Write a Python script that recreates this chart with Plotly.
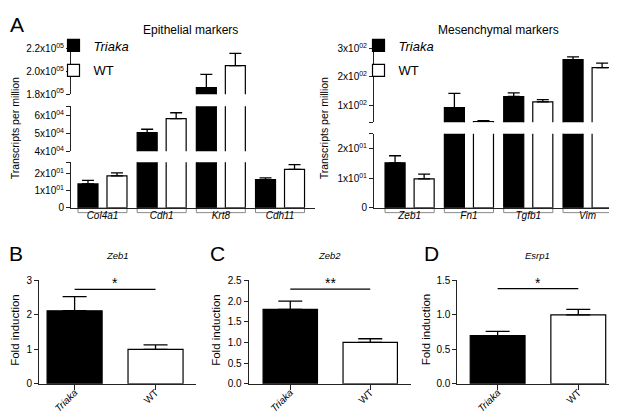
import plotly.graph_objects as go

# ---------------- data ----------------
groups = ["Triaka", "WT"]

epi_genes = ["Col4a1", "Cdh1", "Krt8", "Cdh11"]
epi_triaka = [14.1, 50500, 185800, 16.6]
epi_triaka_err = [2.1, 1900, 11600, 1.1]
epi_wt = [18.9, 58400, 205200, 22.7]
epi_wt_err = [1.7, 3300, 10800, 2.8]

mes_genes = ["Zeb1", "Fn1", "Tgfb1", "Vim"]
mes_triaka = [15.2, 92, 131, 260]
mes_triaka_err = [2.4, 50, 13, 10]
mes_wt = [9.8, 43, 112, 232]
mes_wt_err = [1.6, 4, 8, 16]

zeb1_vals = [2.12, 1.0]
zeb1_err = [0.41, 0.13]
zeb2_vals = [1.80, 1.0]
zeb2_err = [0.20, 0.09]
esrp1_vals = [0.70, 1.0]
esrp1_err = [0.06, 0.08]

sig_heights = [2.74, 2.29, 1.38]
sig_labels = ["*", "**", "*"]

# tick labels of the broken axes
epi_seg_ticks = [
    ([0, 10, 20, 26.9], ["0", "1x10<sup>01</sup>", "2x10<sup>01</sup>", ""]),
    ([40000, 50000, 60000, 65300], ["4x10<sup>04</sup>", "5x10<sup>04</sup>", "6x10<sup>04</sup>", ""]),
    ([180000, 200000, 220000], ["1.8x10<sup>05</sup>", "2.0x10<sup>05</sup>", "2.2x10<sup>05</sup>"]),
]
mes_seg_ticks = [
    ([0, 10, 20, 25], ["0", "1x10<sup>01</sup>", "2x10<sup>01</sup>", ""]),
    ([41, 100, 200, 300], ["", "1x10<sup>02</sup>", "2x10<sup>02</sup>", "3x10<sup>02</sup>"]),
]

# ---------------- layout helpers ----------------
W, H = 617, 416
FONT = "Liberation Sans, Arial, sans-serif"


def px_x(p):
    return p / W


def px_y(p):
    return 1 - p / H


fig = go.Figure()

BAR_LINE = dict(color="black", width=1.2)
A_W = 0.338
A_OFF = [-0.414, 0.076]

# ---- Panel A left (3 segments) ----
epi_yaxes = ["y", "y2", "y3"]
for si, ya in enumerate(epi_yaxes):
    for gi, (vals, errs, col) in enumerate([(epi_triaka, epi_triaka_err, "black"),
                                             (epi_wt, epi_wt_err, "white")]):
        fig.add_trace(go.Bar(
            x=epi_genes, y=vals, xaxis="x", yaxis=ya,
            name=f"<i>{groups[gi]}</i>" if gi == 0 else groups[gi],
            width=A_W, offset=A_OFF[gi],
            marker=dict(color=col, line=BAR_LINE),
            error_y=dict(type="data", array=errs, arrayminus=[0] * len(errs), symmetric=False,
                         color="black", thickness=1.3, width=6),
            showlegend=(si == 0), legend="legend", legendgroup=f"epi{gi}",
        ))

# ---- Panel A right (2 segments) ----
mes_yaxes = ["y4", "y5"]
for si, ya in enumerate(mes_yaxes):
    for gi, (vals, errs, col) in enumerate([(mes_triaka, mes_triaka_err, "black"),
                                             (mes_wt, mes_wt_err, "white")]):
        fig.add_trace(go.Bar(
            x=mes_genes, y=vals, xaxis="x2", yaxis=ya,
            name=f"<i>{groups[gi]}</i>" if gi == 0 else groups[gi],
            width=A_W, offset=A_OFF[gi],
            marker=dict(color=col, line=BAR_LINE),
            error_y=dict(type="data", array=errs, arrayminus=[0] * len(errs), symmetric=False,
                         color="black", thickness=1.3, width=6),
            showlegend=(si == 0), legend="legend2", legendgroup=f"mes{gi}",
        ))

# ---- Panels B, C, D ----
small = [
    ("x3", "y6", zeb1_vals, zeb1_err),
    ("x4", "y7", zeb2_vals, zeb2_err),
    ("x5", "y8", esrp1_vals, esrp1_err),
]
for xa, ya, vals, errs in small:
    fig.add_trace(go.Bar(
        x=groups, y=vals, xaxis=xa, yaxis=ya, width=0.68,
        marker=dict(color=["black", "white"], line=BAR_LINE),
        error_y=dict(type="data", array=errs, arrayminus=[0] * len(errs), symmetric=False,
                     color="black", thickness=1.3, width=12),
        showlegend=False,
    ))

# ---------------- axes ----------------
axis_common = dict(showline=True, linecolor="#222", linewidth=1, showgrid=False, zeroline=False,
                   ticks="outside", ticklen=4, tickwidth=1, tickcolor="#222",
                   tickfont=dict(family=FONT, size=10, color="black"))

layout = dict(
    width=W, height=H, margin=dict(l=0, r=0, t=0, b=0),
    plot_bgcolor="white", paper_bgcolor="white",
    barmode="overlay",
    font=dict(family=FONT, color="black"),
)

# A left
layout["xaxis"] = dict(domain=[px_x(63), px_x(307)], anchor="y", type="category",
                       categoryarray=epi_genes, range=[-0.532, 3.591],
                       showline=True, linecolor="#222", linewidth=1, showgrid=False, zeroline=False,
                       ticks="", ticklabelstandoff=-2,
                       tickfont=dict(family=FONT, size=10, color="black", style="italic"))
epi_domains = [(152, 199), (94.3, 140.7), (35, 81.7)]
epi_ranges = [[0, 26.9], [40000, 65300], [180000, 220000]]
for i, ya in enumerate(["yaxis", "yaxis2", "yaxis3"]):
    top, bot = epi_domains[i]
    tv, tt = epi_seg_ticks[i]
    layout[ya] = dict(axis_common, domain=[px_y(bot), px_y(top)], anchor="x",
                      range=epi_ranges[i], tickvals=tv, ticktext=tt)

# A right
layout["xaxis2"] = dict(domain=[px_x(366), px_x(614)], anchor="y4", type="category",
                        categoryarray=mes_genes, range=[-0.60, 3.58],
                        showline=True, linecolor="#222", linewidth=1, showgrid=False, zeroline=False,
                        ticks="", ticklabelstandoff=-2,
                        tickfont=dict(family=FONT, size=10, color="black", style="italic"))
mes_domains = [(122.7, 199), (34.3, 110.7)]
mes_ranges = [[0, 25], [41, 300]]
for i, ya in enumerate(["yaxis4", "yaxis5"]):
    top, bot = mes_domains[i]
    tv, tt = mes_seg_ticks[i]
    layout[ya] = dict(axis_common, domain=[px_y(bot), px_y(top)], anchor="x2",
                      range=mes_ranges[i], tickvals=tv, ticktext=tt)

# B, C, D
small_x_domains = [(31, 188), (240.7, 403), (449.3, 609)]
small_x_ranges = [[-0.44, 1.5], [-0.52, 1.51], [-0.50, 1.48]]
small_y_ranges = [[0, 3], [0, 2.5], [0, 1.5]]
small_y_ticks = [
    ([0, 1, 2, 3], ["0", "1", "2", "3"]),
    ([0, 0.5, 1, 1.5, 2, 2.5], ["0.0", "0.5", "1.0", "1.5", "2.0", "2.5"]),
    ([0, 0.5, 1, 1.5], ["0.0", "0.5", "1.0", "1.5"]),
]
for i in range(3):
    xn = f"xaxis{i + 3}"
    yn = f"yaxis{i + 6}"
    l, r = small_x_domains[i]
    layout[xn] = dict(axis_common, domain=[px_x(l), px_x(r)], anchor=f"y{i + 6}", type="category",
                      categoryarray=groups, range=small_x_ranges[i], tickangle=-45,
                      ticklen=5, tickvals=groups, ticktext=["<i>Triaka</i>", "WT"],
                      ticklabelstandoff=-7,
                      tickfont=dict(family=FONT, size=10, color="black"))
    tv, tt = small_y_ticks[i]
    layout[yn] = dict(axis_common, domain=[px_y(380.7), px_y(274)], anchor=f"x{i + 3}",
                      range=small_y_ranges[i], tickvals=tv, ticktext=tt)

# legends
leg_common = dict(xanchor="left", yanchor="top", bgcolor="rgba(0,0,0,0)", borderwidth=0,
                  font=dict(family=FONT, size=13, color="black"), itemwidth=30,
                  tracegroupgap=5, traceorder="grouped")
layout["legend"] = dict(leg_common, x=px_x(45.5), y=px_y(16))
layout["legend2"] = dict(leg_common, x=px_x(350.5), y=px_y(16))

fig.update_layout(**layout)

# ---------------- shapes: group brackets & significance lines ----------------
shapes = []
for xa, genes in [("x", epi_genes), ("x2", mes_genes)]:
    for k in range(len(genes)):
        shapes.append(dict(type="rect", xref=xa, yref="paper",
                           x0=k + A_OFF[0], x1=k + A_OFF[1] + A_W,
                           y0=px_y(199), y1=px_y(204),
                           line=dict(color="#888", width=1), fillcolor="rgba(0,0,0,0)",
                           layer="below"))
for i in range(3):
    shapes.append(dict(type="line", xref=f"x{i + 3}", yref=f"y{i + 6}",
                       x0=0, x1=1, y0=sig_heights[i], y1=sig_heights[i],
                       line=dict(color="black", width=1.3)))
fig.update_layout(shapes=shapes)

# ---------------- annotations ----------------
ann = []


def txt(text, x, y, size, **kw):
    d = dict(text=text, x=x, y=y, xref="paper", yref="paper", showarrow=False,
             font=dict(family=FONT, size=size, color="black"), xanchor="center", yanchor="middle")
    d.update(kw)
    ann.append(d)


txt("A", px_x(9), px_y(10), 21)
txt("B", px_x(8), px_y(246), 21)
txt("C", px_x(209), px_y(246), 21)
txt("D", px_x(423), px_y(246), 21)
txt("Epithelial markers", px_x(182), px_y(15), 12)
txt("Mesenchymal markers", px_x(490), px_y(15), 12)
txt("Transcripts per million", px_x(7), px_y(117), 10.5, textangle=-90)
txt("Transcripts per million", px_x(316), px_y(117), 10.5, textangle=-90)
for i, name in enumerate(["Zeb1", "Zeb2", "Esrp1"]):
    l, r = small_x_domains[i]
    txt(f"<i>{name}</i>", px_x((l + r) / 2), px_y(248), 9.5)
for i, xpos in enumerate([7, 208, 417.5]):
    txt("Fold induction", px_x(xpos), px_y(325), 11.5, textangle=-90)
for i in range(3):
    ann.append(dict(text=sig_labels[i], x=0.5, y=sig_heights[i], xref=f"x{i + 3}", yref=f"y{i + 6}",
                    showarrow=False, yanchor="bottom", yshift=-4,
                    font=dict(family=FONT, size=14, color="black")))
fig.update_layout(annotations=ann)

fig.write_html("out.html")
